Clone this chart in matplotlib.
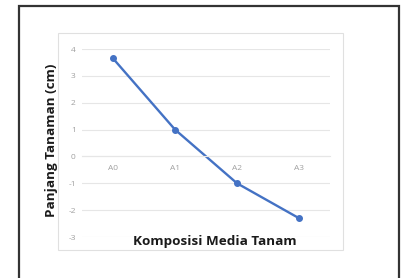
import matplotlib.pyplot as plt
from matplotlib.patches import Rectangle

categories = ["A0", "A1", "A2", "A3"]
panjang = [3.65, 1.0, -1.0, -2.3]
y_ticks = [-3, -2, -1, 0, 1, 2, 3, 4]

plt.rcParams["axes.unicode_minus"] = False

W, H = 404, 278
fig = plt.figure(figsize=(W / 100, H / 100), dpi=100)
fig.patch.set_facecolor("white")

# outer frame and inner chart area
fig.patches.append(Rectangle((19 / W, -0.05), 380 / W, 1 - 6 / H + 0.05,
                             transform=fig.transFigure, fill=False,
                             edgecolor="#333333", linewidth=1.6))
fig.patches.append(Rectangle((58 / W, 1 - 250 / H), 285 / W, 217 / H,
                             transform=fig.transFigure, fill=False,
                             edgecolor="#e0e0e0", linewidth=0.8))

ax = fig.add_axes([82 / W, 1 - 237 / H, 248 / W, 188 / H])
x = list(range(len(categories)))
ax.plot(x, panjang, color="#4472C4", linewidth=1.7, marker="o", markersize=4)

ax.set_xlim(-0.5, 3.5)
ax.set_ylim(-3, 4)
ax.set_yticks(y_ticks)
ax.set_xticks(x)
ax.set_xticklabels(categories)
ax.grid(axis="y", color="#e6e6e6", linewidth=0.8)
ax.set_axisbelow(True)

for s in ["top", "right", "left"]:
    ax.spines[s].set_visible(False)
ax.spines["bottom"].set_position(("data", 0))
ax.spines["bottom"].set_color("#e6e6e6")
ax.spines["bottom"].set_linewidth(0.8)

ax.tick_params(axis="both", length=0, labelsize=6, labelcolor="#a0a0a0")
ax.tick_params(axis="x", pad=6.5)
ax.tick_params(axis="y", pad=4.5)
for lbl in ax.get_xticklabels() + ax.get_yticklabels():
    lbl.set_family("Open Sans")

fig.text(215 / W, 1 - 241 / H, "Komposisi Media Tanam", ha="center", va="center",
         fontsize=9.7, fontweight="bold", family="Open Sans", color="#1a1a1a")
fig.text(52 / W, 1 - 140.5 / H, "Panjang Tanaman (cm)", ha="center", va="center",
         rotation=90, fontsize=9.7, fontweight="bold", family="Open Sans", color="#1a1a1a")

fig.savefig("out.png", dpi=100)
